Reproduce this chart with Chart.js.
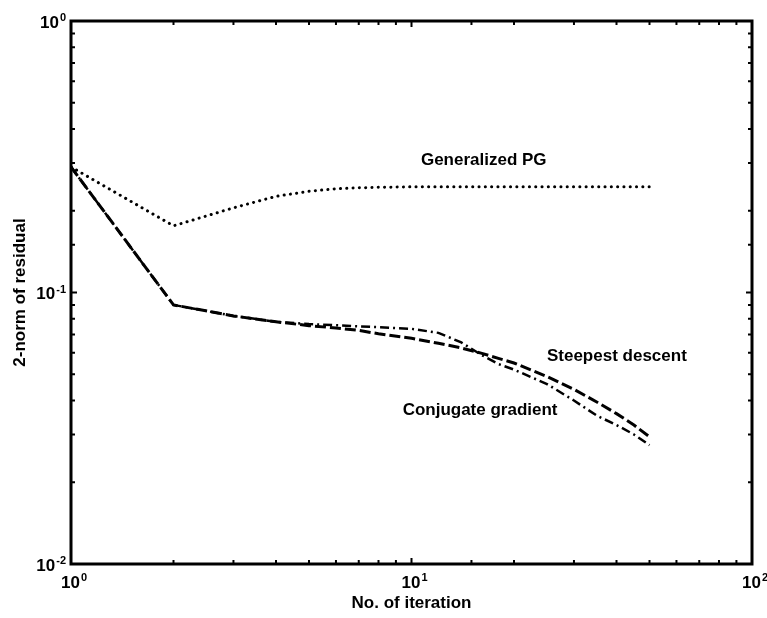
<!DOCTYPE html>
<html>
<head>
<meta charset="utf-8">
<script src="https://cdn.jsdelivr.net/npm/chart.js@4"></script>
<style>
  body { margin: 0; background: #fff; }
  #wrap { width: 767px; height: 618px; }
</style>
</head>
<body>
<div id="wrap"><canvas id="myChart"></canvas></div>
<script>
// iteration numbers shared by all three curves
const iterations = [1, 2, 3, 4, 5, 6, 7, 8, 10, 12, 14, 16, 18, 20, 25, 30, 35, 40, 45, 50]
const generalizedPG = [0.29, 0.176, 0.205, 0.226, 0.236, 0.241, 0.243, 0.244, 0.245, 0.245,
    0.245, 0.245, 0.245, 0.245, 0.245, 0.245, 0.245, 0.245, 0.245, 0.245]
const steepestDescent = [0.29, 0.090, 0.082, 0.078, 0.0755, 0.074, 0.0725, 0.0705, 0.0678, 0.065,
    0.0625, 0.0598, 0.0572, 0.055, 0.049, 0.044, 0.0395, 0.0358, 0.0325, 0.0294]
const conjugateGradient = [0.29, 0.090, 0.082, 0.078, 0.0765, 0.0758, 0.075, 0.0745, 0.0735, 0.071,
    0.0655, 0.059, 0.0545, 0.052, 0.046, 0.040, 0.0352, 0.0325, 0.030, 0.0274]

const xRange = [1, 100]
const yRange = [0.01, 1]
const seriesLabels = ['Generalized PG', 'Steepest descent', 'Conjugate gradient']

const FONT = '"Liberation Sans", Arial, sans-serif'

function toPoints(ys) {
    return iterations.map((x, i) => ({ x: x, y: ys[i] }))
}

// exponent of a tick if it is a power of ten, else null
function powerOf(value) {
    const e = Math.log10(value)
    if (Math.abs(e - Math.round(e)) > 1e-9) return null
    return Math.round(e)
}

// "10" with a raised exponent
function drawPower(ctx, e, x, y, align) {
    const exp = e < 0 ? '-' + Math.abs(e) : String(e)
    ctx.font = 'bold 17px ' + FONT
    const wBase = ctx.measureText('10').width
    ctx.font = 'bold 11px ' + FONT
    const wExp = ctx.measureText(exp).width
    const total = wBase + 1 + wExp
    const x0 = align === 'right' ? x - total : x - total / 2
    ctx.textAlign = 'left'
    ctx.font = 'bold 17px ' + FONT
    ctx.textBaseline = 'middle'
    ctx.fillText('10', x0, y)
    ctx.font = 'bold 11px ' + FONT
    ctx.textBaseline = 'alphabetic'
    ctx.fillText(exp, x0 + wBase + 1, y - 2)
}

// text labels placed at data coordinates
const curveNotes = [
    { text: seriesLabels[0], x: 16.3, y: 0.307 },
    { text: seriesLabels[1], x: 40.1, y: 0.0584 },
    { text: seriesLabels[2], x: 15.9, y: 0.0369 }
]

const frame = {
    id: 'frame',
    afterDraw(chart) {
        const ctx = chart.ctx
        const a = chart.chartArea
        const xs = chart.scales.x
        const ys = chart.scales.y
        ctx.save()
        ctx.strokeStyle = '#000'
        ctx.fillStyle = '#000'
        ctx.lineWidth = 2
        xs.ticks.forEach(t => {
            const px = xs.getPixelForValue(t.value)
            const e = powerOf(t.value)
            const len = e !== null ? 6 : 4
            ctx.beginPath()
            ctx.moveTo(px, a.bottom); ctx.lineTo(px, a.bottom - len)
            ctx.moveTo(px, a.top); ctx.lineTo(px, a.top + len)
            ctx.stroke()
            if (e !== null) drawPower(ctx, e, px + 3, a.bottom + 19, 'center')
        })
        ys.ticks.forEach(t => {
            const py = ys.getPixelForValue(t.value)
            const e = powerOf(t.value)
            const len = e !== null ? 6 : 4
            ctx.beginPath()
            ctx.moveTo(a.left, py); ctx.lineTo(a.left + len, py)
            ctx.moveTo(a.right, py); ctx.lineTo(a.right - len, py)
            ctx.stroke()
            if (e !== null) drawPower(ctx, e, a.left - 5, py + 2, 'right')
        })
        ctx.lineWidth = 3
        ctx.strokeRect(a.left, a.top, a.right - a.left, a.bottom - a.top)

        ctx.font = 'bold 17px ' + FONT
        ctx.textAlign = 'center'
        ctx.textBaseline = 'middle'
        curveNotes.forEach(n => {
            ctx.fillText(n.text, xs.getPixelForValue(n.x), ys.getPixelForValue(n.y))
        })
        ctx.restore()
    }
}

const data = {
    datasets: [{
        label: seriesLabels[0],
        data: toPoints(generalizedPG),
        borderColor: '#000',
        borderWidth: 3,
        borderDash: [0.1, 6.2],
        borderCapStyle: 'round'
    }, {
        label: seriesLabels[1],
        data: toPoints(steepestDescent),
        borderColor: '#000',
        borderWidth: 3,
        borderDash: [11, 4]
    }, {
        label: seriesLabels[2],
        data: toPoints(conjugateGradient),
        borderColor: '#000',
        borderWidth: 2.5,
        borderDash: [9, 4, 2, 4]
    }]
}

const titleFont = { family: FONT, size: 17, weight: 'bold' }

const config = {
    type: 'line',
    data: data,
    options: {
        responsive: true,
        maintainAspectRatio: false,
        animation: false,
        layout: { padding: { top: 21, right: 15, left: 0, bottom: 0 } },
        elements: {
            point: { radius: 0 },
            line: { tension: 0, fill: false }
        },
        plugins: {
            legend: { display: false },
            tooltip: { enabled: false }
        },
        scales: {
            x: {
                type: 'logarithmic',
                min: xRange[0],
                max: xRange[1],
                grid: { display: false },
                border: { display: false },
                ticks: { display: false, autoSkip: false },
                title: {
                    display: true,
                    text: 'No. of iteration',
                    color: '#000',
                    font: titleFont,
                    padding: { top: 0, bottom: 4 }
                },
                afterFit: s => { s.height = 54 }
            },
            y: {
                type: 'logarithmic',
                min: yRange[0],
                max: yRange[1],
                grid: { display: false },
                border: { display: false },
                ticks: { display: false, autoSkip: false },
                title: {
                    display: true,
                    text: '2-norm of residual',
                    color: '#000',
                    font: titleFont,
                    padding: { top: 10, bottom: 0 }
                },
                afterFit: s => { s.width = 71 }
            }
        }
    },
    plugins: [frame]
}

const myChart = new Chart(document.getElementById('myChart'), config)
</script>
</body>
</html>
